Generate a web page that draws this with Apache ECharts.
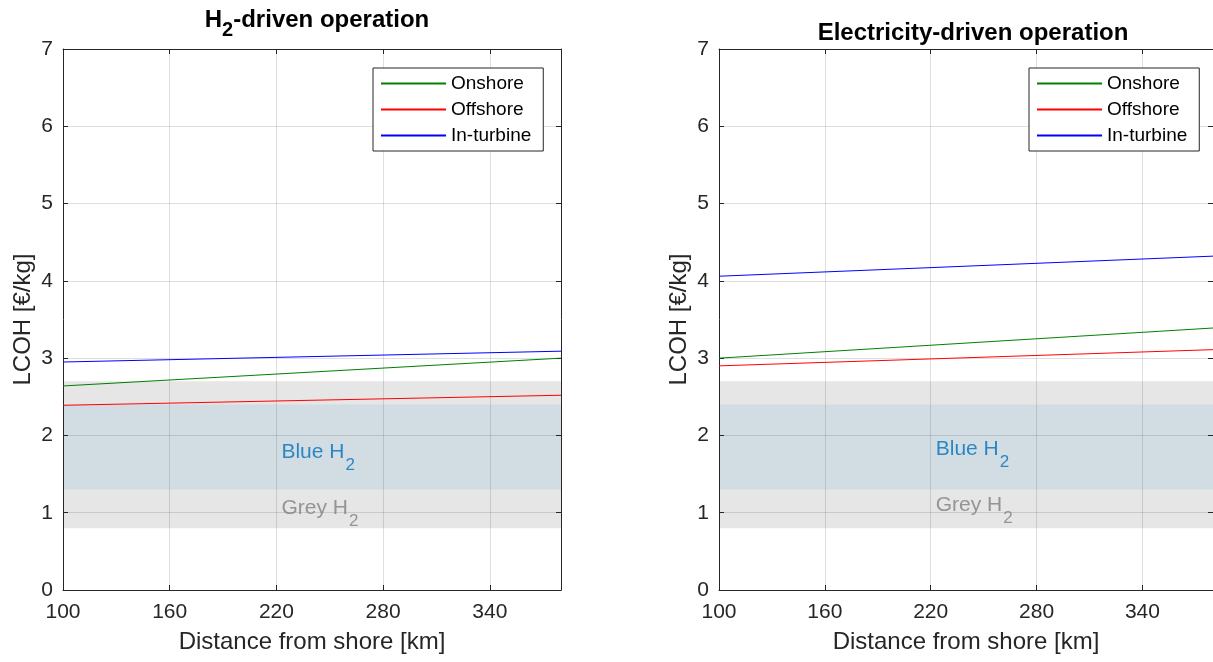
<!DOCTYPE html>
<html>
<head>
<meta charset="utf-8">
<script src="https://cdn.jsdelivr.net/npm/echarts@6/dist/echarts.min.js"></script>
<style>
  html, body { margin: 0; padding: 0; background: #ffffff; }
  #chart { width: 1213px; height: 662px; }
</style>
</head>
<body>
<div id="chart"></div>
<script>
// Distance from shore [km] at which each cost line is evaluated
const distances = [100, 380];
const xTicks = [100, 160, 220, 280, 340];
const yTicks = [0, 1, 2, 3, 4, 5, 6, 7];

const seriesNames = ['Onshore', 'Offshore', 'In-turbine'];

// LCOH [€/kg], H2-driven operation
const h2Onshore = [2.64, 3.00];
const h2Offshore = [2.39, 2.52];
const h2InTurbine = [2.95, 3.09];

// LCOH [€/kg], electricity-driven operation
const elOnshore = [3.00, 3.39];
const elOffshore = [2.90, 3.11];
const elInTurbine = [4.06, 4.32];

// Reference cost ranges [€/kg]
const greyBand = [0.8, 2.7];
const blueBand = [1.3, 2.4];

// Band label anchors: [distance, blue label LCOH, grey label LCOH]
const h2BandLabels = [220, 1.76, 1.04];
const elBandLabels = [220, 1.80, 1.08];

const FONT = "'Liberation Sans', Arial, Helvetica, sans-serif";
const AXIS_COLOR = '#262626';
const lineColors = ['#008000', '#ff0000', '#0000ff'];

const chart = echarts.init(document.getElementById('chart'), null, { renderer: 'canvas' });

const gridBoxes = [
  { left: 63, top: 49, width: 498, height: 541 },
  { left: 719, top: 49, width: 498, height: 541 }
];

function bottomAxis(gridIndex) {
  return {
    type: 'value', gridIndex, position: 'bottom',
    min: 100, max: 380, z: 3,
    name: 'Distance from shore [km]', nameLocation: 'middle', nameGap: 40,
    nameTextStyle: { fontFamily: FONT, fontSize: 24, color: AXIS_COLOR },
    axisLine: { show: true, onZero: false, lineStyle: { color: AXIS_COLOR, width: 1 } },
    axisTick: { show: true, inside: true, length: 5, customValues: xTicks, lineStyle: { color: AXIS_COLOR } },
    axisLabel: { show: true, customValues: xTicks, margin: 12, fontFamily: FONT, fontSize: 21, color: AXIS_COLOR },
    splitLine: { show: true, lineStyle: { color: 'rgba(38,38,38,0.15)', width: 1 } }
  };
}
function topAxis(gridIndex) {
  return {
    type: 'value', gridIndex, position: 'top',
    min: 100, max: 380, z: 3,
    axisLine: { show: true, onZero: false, lineStyle: { color: AXIS_COLOR, width: 1 } },
    axisTick: { show: true, inside: true, length: 5, customValues: xTicks, lineStyle: { color: AXIS_COLOR } },
    axisLabel: { show: false },
    splitLine: { show: false }
  };
}
function leftAxis(gridIndex) {
  return {
    type: 'value', gridIndex, position: 'left',
    min: yTicks[0], max: yTicks[yTicks.length - 1], interval: 1, z: 3,
    name: 'LCOH [€/kg]', nameLocation: 'middle', nameGap: 28,
    nameTextStyle: { fontFamily: FONT, fontSize: 24, color: AXIS_COLOR },
    axisLine: { show: true, onZero: false, lineStyle: { color: AXIS_COLOR, width: 1 } },
    axisTick: { show: true, inside: true, length: 5, lineStyle: { color: AXIS_COLOR } },
    axisLabel: { show: true, margin: 10, fontFamily: FONT, fontSize: 21, color: AXIS_COLOR },
    splitLine: { show: true, lineStyle: { color: 'rgba(38,38,38,0.15)', width: 1 } }
  };
}
function rightAxis(gridIndex) {
  return {
    type: 'value', gridIndex, position: 'right',
    min: yTicks[0], max: yTicks[yTicks.length - 1], interval: 1, z: 3,
    axisLine: { show: true, onZero: false, lineStyle: { color: AXIS_COLOR, width: 1 } },
    axisTick: { show: true, inside: true, length: 5, lineStyle: { color: AXIS_COLOR } },
    axisLabel: { show: false },
    splitLine: { show: false }
  };
}

function bandSeries(axisIndex) {
  return {
    type: 'line', data: [], silent: true, z: 1,
    xAxisIndex: axisIndex * 2, yAxisIndex: axisIndex * 2,
    markArea: {
      silent: true,
      data: [
        [{ yAxis: greyBand[0], itemStyle: { color: '#e6e6e6' } }, { yAxis: greyBand[1] }],
        [{ yAxis: blueBand[0], itemStyle: { color: '#d1dde2' } }, { yAxis: blueBand[1] }]
      ]
    }
  };
}

function bandLabelSeries(axisIndex, anchors) {
  const mk = (text, color) => ({
    show: true, position: 'right', distance: 5,
    formatter: '{m|' + text + '}{s|2}',
    rich: {
      m: { fontFamily: FONT, fontSize: 21, color, lineHeight: 24, verticalAlign: 'top' },
      s: { fontFamily: FONT, fontSize: 17, color, lineHeight: 20, padding: [15, 0, 0, 1], verticalAlign: 'top' }
    }
  });
  return {
    type: 'scatter', silent: true, z: 4, symbolSize: 0,
    xAxisIndex: axisIndex * 2, yAxisIndex: axisIndex * 2,
    data: [
      { value: [anchors[0], anchors[1]], label: mk('Blue H', '#0072bd') },
      { value: [anchors[0], anchors[2]], label: mk('Grey H', '#808080') }
    ]
  };
}

function costLines(axisIndex, values) {
  return values.map((vals, k) => ({
    name: seriesNames[k], type: 'line', z: 5,
    xAxisIndex: axisIndex * 2, yAxisIndex: axisIndex * 2,
    symbol: 'none', silent: true,
    color: lineColors[k],
    lineStyle: { color: lineColors[k], width: 1 },
    data: distances.map((d, i) => [d, vals[i]])
  }));
}

function legendBox(left) {
  return {
    data: seriesNames.map((name, k) => ({
      name,
      icon: 'rect',
      itemStyle: { color: lineColors[k], borderWidth: 0, opacity: 1 }
    })),
    left, top: 68, orient: 'vertical',
    itemWidth: 65, itemHeight: 2, itemGap: 7,
    padding: [6, 12, 6, 8],
    backgroundColor: '#ffffff', borderColor: AXIS_COLOR, borderWidth: 1, borderRadius: 0,
    selectedMode: false, z: 10,
    textStyle: { fontFamily: FONT, fontSize: 19, color: '#000000' }
  };
}

const option = {
  animation: false,
  backgroundColor: '#ffffff',
  title: [
    {
      text: '{a|H}{s|2}{a|-driven operation}',
      left: 312, top: 3, textAlign: 'center',
      textStyle: {
        rich: {
          a: { fontFamily: FONT, fontSize: 24, fontWeight: 'bold', color: '#000000', lineHeight: 24, verticalAlign: 'top' },
          s: { fontFamily: FONT, fontSize: 20, fontWeight: 'bold', color: '#000000', lineHeight: 20, padding: [12, 0, 0, 0], verticalAlign: 'top' }
        }
      }
    },
    {
      text: 'Electricity-driven operation',
      left: 968, top: 16, textAlign: 'center',
      textStyle: { fontFamily: FONT, fontSize: 24, fontWeight: 'bold', color: '#000000', lineHeight: 24 }
    }
  ],
  legend: [legendBox(373), legendBox(1029)],
  grid: gridBoxes.map(g => Object.assign({ containLabel: false }, g)),
  xAxis: [bottomAxis(0), topAxis(0), bottomAxis(1), topAxis(1)],
  yAxis: [leftAxis(0), rightAxis(0), leftAxis(1), rightAxis(1)],
  series: [
    bandSeries(0),
    bandSeries(1),
    bandLabelSeries(0, h2BandLabels),
    bandLabelSeries(1, elBandLabels),
    ...costLines(0, [h2Onshore, h2Offshore, h2InTurbine]),
    ...costLines(1, [elOnshore, elOffshore, elInTurbine])
  ]
};

// top/right axes share the grid of their bottom/left partners
option.xAxis[1].gridIndex = 0;
option.xAxis[3].gridIndex = 1;
option.yAxis[1].gridIndex = 0;
option.yAxis[3].gridIndex = 1;

chart.setOption(option);
</script>
</body>
</html>
